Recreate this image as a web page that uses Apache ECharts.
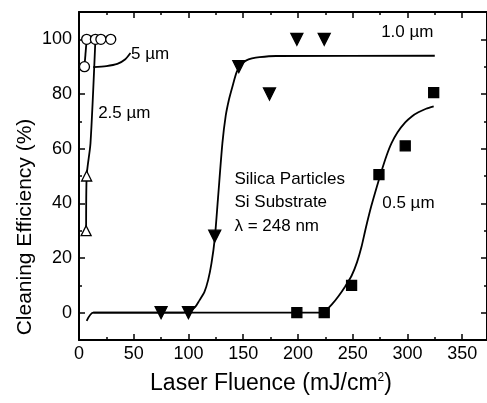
<!DOCTYPE html>
<html>
<head>
<meta charset="utf-8">
<script src="https://cdn.jsdelivr.net/npm/echarts@6/dist/echarts.min.js"></script>
<style>
html, body { margin: 0; background: #fff; }
#chart { width: 487px; height: 403px; }
</style>
</head>
<body>
<div id="chart"></div>
<script>
var circ5 = [[5, 90], [7, 100], [15, 100], [20, 100], [29, 100]];
var fit5 = [[5, 90], [7, 100]];
var tri25 = [[6.5, 30], [7, 50]];
var fit25 = [[6.5, 30], [7, 50], [10.5, 62], [15, 100]];
var tri10 = [[75, 0], [100, 0], [124, 28], [146, 90], [174, 80], [199, 100], [224, 100]];
var fit10 = [[7, -3], [13, 0], [95, 0], [101, 0.5], [106, 2], [110, 4.5], [114.5, 7.5], [118, 12], [121, 18],
	[124, 27], [127, 42], [131, 62], [134, 72], [137, 78], [140, 82.5], [144, 88], [148, 90.8], [152.5, 92.2],
	[158, 93], [165, 93.5], [180, 93.9], [325, 94]];
var sq05 = [[199, 0], [224, 0], [249, 10], [274, 50.5], [298, 61], [324, 80.5]];
var fit05 = [[13, 0], [222, 0], [226, 1], [231, 3], [237, 6], [243, 9.5], [249, 13.5], [254, 18.5], [258, 24],
	[262, 31], [267, 39], [272, 46], [276.5, 52], [281, 57.5], [285.5, 62], [291, 66], [298, 69.6],
	[304, 71.8], [310, 73.3], [317, 74.6], [324, 75.5]];
var leader5 = [[13, 89.8], [25, 90.2], [35, 91], [42, 92.6], [47, 95]];

var xTicks = [0, 50, 100, 150, 200, 250, 300, 350];
var xMinor = [25, 75, 125, 175, 225, 275, 325];
var yTicks = [0, 20, 40, 60, 80, 100];
var yMinor = [-10, 10, 30, 50, 70, 90, 110];

var FONT = "'Liberation Sans', Arial, sans-serif";
var XMIN = 0, XMAX = 372.7, YMIN = -10, YMAX = 110;

function xAx(pos, ticks, len, labels) {
	return {
		type: 'value', position: pos, min: XMIN, max: XMAX, interval: 50,
		axisLine: { show: !!labels || (pos === 'top' && len > 4), onZero: false, lineStyle: { color: '#000', width: 2 } },
		axisTick: { show: true, inside: true, length: len, customValues: ticks, lineStyle: { color: '#000', width: 1.5 } },
		axisLabel: labels ? { customValues: ticks, color: '#000', fontSize: 18, fontFamily: FONT, margin: 5 } : { show: false },
		splitLine: { show: false }
	};
}
function yAx(pos, ticks, len, labels) {
	return {
		type: 'value', position: pos, min: YMIN, max: YMAX, interval: 10,
		axisLine: { show: !!labels || (pos === 'right' && len > 4), onZero: false, lineStyle: { color: '#000', width: 2 } },
		axisTick: { show: true, inside: true, length: len, customValues: ticks, lineStyle: { color: '#000', width: 1.5 } },
		axisLabel: labels ? { customValues: ticks, color: '#000', fontSize: 18, fontFamily: FONT, margin: 7 } : { show: false },
		splitLine: { show: false }
	};
}

var xMain = xAx('bottom', xTicks, 6, true);
xMain.name = 'Laser Fluence (mJ/cm{sup|2})';
xMain.nameLocation = 'middle';
xMain.nameGap = 32;
xMain.nameTextStyle = {
	color: '#000', fontSize: 23, fontFamily: FONT, padding: [0, 24, 0, 0],
	rich: { sup: { fontSize: 12, fontFamily: FONT, color: '#000', verticalAlign: 'top', padding: [0, 0, 10, 0] } }
};

var chart = echarts.init(document.getElementById('chart'));

function lineS(data) {
	return {
		type: 'line', data: data, showSymbol: false, smooth: 0.25,
		lineStyle: { color: '#000', width: 1.8 }, silent: true, z: 2
	};
}
function markS(data, symbol, size, filled, rot) {
	return {
		type: 'scatter', data: data, symbol: symbol, symbolSize: size, symbolRotate: rot || 0,
		itemStyle: { color: filled ? '#000' : '#fff', borderColor: '#000', borderWidth: 1.3, opacity: 1 }, z: 3
	};
}

var option = {
	animation: false,
	backgroundColor: '#fff',
	grid: { left: 79, width: 410, top: 12, bottom: 63, containLabel: false },
	xAxis: [xMain, xAx('bottom', xMinor, 3, false), xAx('top', xTicks, 6, false), xAx('top', xMinor, 3, false)],
	yAxis: [yAx('left', yTicks, 6, true), yAx('left', yMinor, 3, false), yAx('right', yTicks, 6, false), yAx('right', yMinor, 3, false)],
	series: [
		lineS(fit10), lineS(fit05), lineS(fit25), lineS(fit5), lineS(leader5),
		markS(tri10, 'triangle', 12, true, 180),
		markS(sq05, 'rect', 10, true),
		markS(tri25, 'triangle', 10, false),
		markS(circ5, 'circle', 10, false)
	]
};
chart.setOption(option);

function px(x, y) { return chart.convertToPixel({ xAxisIndex: 0, yAxisIndex: 0 }, [x, y]); }
function label(text, x, y, size, extra) {
	var p = px(x, y);
	var st = { text: text, fill: '#000', fontSize: size, fontFamily: FONT, align: 'left', verticalAlign: 'middle' };
	if (extra) for (var k in extra) st[k] = extra[k];
	return { type: 'text', x: p[0], y: p[1], style: st, z: 10 };
}

chart.setOption({
	graphic: [
		{ type: 'text', x: 25, y: 227, rotation: Math.PI / 2,
			style: { text: 'Cleaning Efficiency (%)', fill: '#000', fontSize: 21, fontFamily: FONT, align: 'center', verticalAlign: 'middle' } },
		label('5 \u00b5m', 47.5, 94.5, 17),
		label('2.5 \u00b5m', 17.5, 73, 17),
		label('1.0 \u00b5m', 276, 102.5, 17),
		label('0.5 \u00b5m', 277, 40, 17),
		label('Silica Particles\nSi Substrate\n\u03bb = 248 nm', 142, 40.3, 17, { verticalAlign: 'middle', lineHeight: 23.5 })
	]
});
</script>
</body>
</html>
